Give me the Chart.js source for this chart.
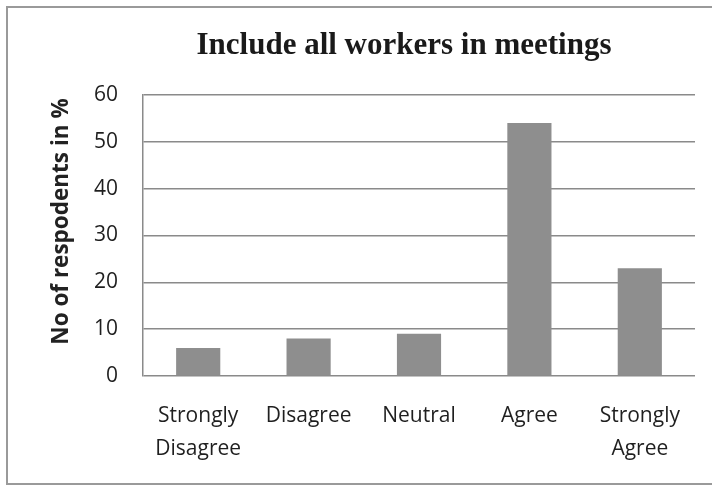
<!DOCTYPE html>
<html>
<head>
<meta charset="utf-8">
<script src="https://cdn.jsdelivr.net/npm/chart.js@4/dist/chart.umd.min.js"></script>
<style>
  html, body { margin: 0; padding: 0; background: #fff; }
  #wrap { width: 712px; height: 487px; position: relative; }
</style>
</head>
<body>
<div id="wrap"><canvas id="c" width="712" height="487"></canvas></div>
<script>
// Survey responses: share of respondents per answer
const categories = [['Strongly', 'Disagree'], 'Disagree', 'Neutral', 'Agree', ['Strongly', 'Agree']];
const percentages = [6, 8, 9, 54, 23];
const yTicks = [0, 10, 20, 30, 40, 50, 60];
const chartTitle = 'Include all workers in meetings';
const yAxisTitle = 'No of respodents in %';

const tickFont = { family: '"Open Sans", "DejaVu Sans", sans-serif', size: 21 };

// Outer frame, chart heading and vertical axis caption
const decorations = {
  id: 'decorations',
  beforeDraw(chart) {
    const ctx = chart.ctx;
    ctx.save();
    ctx.strokeStyle = '#9a9a9a';
    ctx.lineWidth = 2;
    ctx.beginPath();
    ctx.moveTo(712, 7);
    ctx.lineTo(7, 7);
    ctx.lineTo(7, 484);
    ctx.lineTo(712, 484);
    ctx.stroke();
    ctx.restore();
  },
  afterDraw(chart) {
    const ctx = chart.ctx;
    const area = chart.chartArea;
    ctx.save();
    ctx.fillStyle = '#1a1a1a';
    ctx.font = 'bold 31px "Liberation Serif", "Times New Roman", serif';
    ctx.textAlign = 'center';
    ctx.textBaseline = 'middle';
    ctx.fillText(chartTitle, (area.left + area.right) / 2 - 15, 46);

    ctx.translate(62, (area.top + area.bottom) / 2 - 14);
    ctx.rotate(-Math.PI / 2);
    ctx.font = 'bold 22.5px "Open Sans", "DejaVu Sans", sans-serif';
    ctx.fillStyle = '#222';
    ctx.fillText(yAxisTitle, 0, 0);
    ctx.restore();
  }
};

new Chart(document.getElementById('c'), {
  type: 'bar',
  data: {
    labels: categories,
    datasets: [{
      data: percentages,
      backgroundColor: '#8e8e8e',
      borderWidth: 0,
      barPercentage: 0.4,
      categoryPercentage: 1.0
    }]
  },
  options: {
    responsive: false,
    animation: false,
    layout: { padding: { top: 95, right: 17, left: 0, bottom: 0 } },
    plugins: {
      legend: { display: false },
      title: { display: false },
      tooltip: { enabled: false }
    },
    scales: {
      x: {
        grid: { display: false, drawTicks: false },
        border: { display: false },
        ticks: {
          color: '#1f1f1f',
          font: { ...tickFont, lineHeight: 1.55 },
          padding: 24,
          maxRotation: 0,
          autoSkip: false
        },
        afterFit(scale) { scale.height = 111; }
      },
      y: {
        min: 0,
        max: 60,
        afterBuildTicks(scale) { scale.ticks = yTicks.map(v => ({ value: v })); },
        grid: { color: '#8a8a8a', lineWidth: 1.5, drawTicks: false },
        border: { display: true, color: '#8a8a8a', width: 1.5 },
        ticks: {
          color: '#1f1f1f',
          font: tickFont,
          padding: 25
        },
        afterFit(scale) { scale.width = 143; }
      }
    }
  },
  plugins: [decorations]
});
</script>
</body>
</html>
